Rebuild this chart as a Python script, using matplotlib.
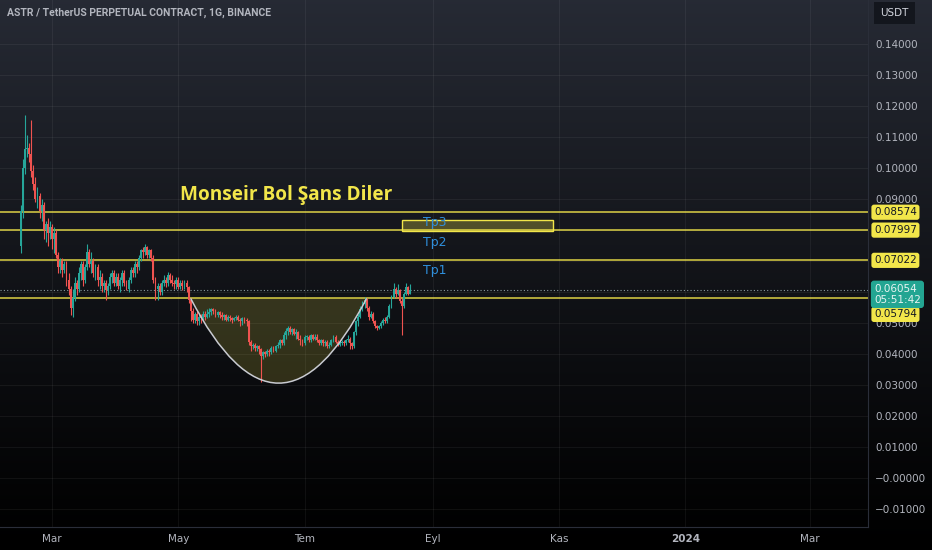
import matplotlib
matplotlib.use('Agg')
import matplotlib.pyplot as plt
import matplotlib.dates as mdates
import matplotlib.transforms as mtransforms
from matplotlib.path import Path
from matplotlib.patches import PathPatch, Rectangle
import numpy as np
import pandas as pd

# daily candles ASTR/USDT perp
first_date = '2023-02-14'
first_open = 0.075
closes = [
    0.086, 0.100, 0.106, 0.1065, 0.1045, 0.099, 0.095, 0.090, 0.091, 0.086,
    0.088, 0.080, 0.082, 0.079, 0.081, 0.077, 0.079, 0.072, 0.068, 0.070,
    0.067, 0.069, 0.064, 0.061, 0.055, 0.058, 0.063, 0.061, 0.066, 0.069,
    0.064, 0.068, 0.073, 0.069, 0.070, 0.066, 0.068, 0.064, 0.065, 0.062,
    0.063, 0.0605, 0.062, 0.065, 0.066, 0.063, 0.065, 0.062, 0.064, 0.066,
    0.063, 0.061, 0.064, 0.067, 0.066, 0.069, 0.068, 0.071, 0.0735, 0.073,
    0.0745, 0.072, 0.0735, 0.071, 0.064, 0.061, 0.062, 0.060, 0.063, 0.064,
    0.063, 0.0655, 0.064, 0.063, 0.0625, 0.064, 0.0615, 0.063, 0.062, 0.063,
    0.0615, 0.0575, 0.054, 0.051, 0.053, 0.0505, 0.052, 0.0515, 0.053, 0.052,
    0.053, 0.0535, 0.0545, 0.054, 0.0525, 0.0535, 0.0525, 0.052, 0.0525, 0.051,
    0.052, 0.0515, 0.051, 0.0515, 0.052, 0.051, 0.0505, 0.0515, 0.051, 0.0505,
    0.044, 0.0425, 0.043, 0.042, 0.0425, 0.0415, 0.0395, 0.0405, 0.040, 0.041,
    0.0405, 0.042, 0.041, 0.0425, 0.043, 0.0445, 0.0435, 0.046, 0.0475, 0.0485,
    0.047, 0.048, 0.0465, 0.047, 0.045, 0.0445, 0.0435, 0.0455, 0.0455, 0.0445,
    0.046, 0.045, 0.0455, 0.0445, 0.0435, 0.0445, 0.0435, 0.044, 0.0425, 0.043,
    0.0445, 0.0455, 0.044, 0.043, 0.0435, 0.044, 0.0435, 0.0445, 0.045, 0.0435,
    0.0425, 0.047, 0.0505, 0.052, 0.0545, 0.056, 0.0575, 0.055, 0.052, 0.053,
    0.0505, 0.049, 0.0485, 0.049, 0.050, 0.051, 0.0505, 0.052, 0.0555, 0.0585,
    0.061, 0.0595, 0.0605, 0.057, 0.0555, 0.0595, 0.0615, 0.0595, 0.06054,
]
highs = [
    0.088, 0.103, 0.117, 0.1105, 0.108, 0.1155, 0.101, 0.097, 0.094, 0.092,
    0.090, 0.089, 0.083, 0.084, 0.083, 0.082, 0.081, 0.080, 0.073, 0.071,
    0.071, 0.070, 0.070, 0.066, 0.062, 0.061, 0.065, 0.064, 0.068, 0.070,
    0.070, 0.069, 0.0755, 0.074, 0.073, 0.071, 0.069, 0.069, 0.067, 0.066,
    0.064, 0.064, 0.063, 0.066, 0.067, 0.067, 0.066, 0.066, 0.065, 0.067,
    0.067, 0.064, 0.065, 0.068, 0.068, 0.070, 0.070, 0.072, 0.074, 0.0745,
    0.0755, 0.075, 0.074, 0.074, 0.072, 0.065, 0.063, 0.063, 0.064, 0.0655,
    0.065, 0.0665, 0.066, 0.0655, 0.064, 0.065, 0.065, 0.064, 0.064, 0.064,
    0.064, 0.062, 0.058, 0.055, 0.0535, 0.054, 0.053, 0.053, 0.054, 0.054,
    0.0545, 0.0548, 0.055, 0.055, 0.0545, 0.054, 0.054, 0.0535, 0.053, 0.053,
    0.0525, 0.0525, 0.052, 0.052, 0.0525, 0.0525, 0.0515, 0.052, 0.052, 0.0515,
    0.051, 0.0445, 0.0435, 0.0435, 0.043, 0.043, 0.042, 0.041, 0.041, 0.0415,
    0.0415, 0.0425, 0.0425, 0.043, 0.044, 0.045, 0.045, 0.047, 0.0485, 0.049,
    0.049, 0.0485, 0.0485, 0.048, 0.0475, 0.046, 0.045, 0.046, 0.046, 0.046,
    0.0465, 0.0465, 0.0465, 0.0465, 0.045, 0.045, 0.045, 0.0445, 0.0445, 0.044,
    0.045, 0.046, 0.046, 0.0445, 0.0445, 0.0445, 0.0445, 0.045, 0.046, 0.0455,
    0.044, 0.0475, 0.051, 0.053, 0.0555, 0.057, 0.0583, 0.058, 0.0555, 0.054,
    0.0535, 0.051, 0.0495, 0.0495, 0.0505, 0.0515, 0.052, 0.0525, 0.056, 0.059,
    0.063, 0.0615, 0.0625, 0.061, 0.058, 0.060, 0.063, 0.062, 0.0625,
]
lows = [
    0.0726, 0.084, 0.098, 0.1035, 0.102, 0.097, 0.093, 0.089, 0.087, 0.084,
    0.083, 0.077, 0.076, 0.075, 0.077, 0.074, 0.0726, 0.071, 0.066, 0.066,
    0.065, 0.066, 0.062, 0.059, 0.0525, 0.052, 0.057, 0.059, 0.060, 0.064,
    0.062, 0.063, 0.067, 0.068, 0.066, 0.065, 0.064, 0.062, 0.061, 0.060,
    0.060, 0.0575, 0.059, 0.061, 0.063, 0.062, 0.062, 0.061, 0.060, 0.062,
    0.062, 0.0605, 0.060, 0.063, 0.065, 0.065, 0.066, 0.067, 0.070, 0.071,
    0.072, 0.071, 0.071, 0.070, 0.063, 0.0575, 0.0575, 0.059, 0.059, 0.062,
    0.0615, 0.062, 0.063, 0.062, 0.061, 0.061, 0.061, 0.061, 0.0605, 0.061,
    0.060, 0.0565, 0.0505, 0.050, 0.050, 0.0495, 0.0495, 0.050, 0.051, 0.051,
    0.0515, 0.052, 0.0525, 0.053, 0.052, 0.052, 0.0515, 0.051, 0.051, 0.0505,
    0.0505, 0.0505, 0.050, 0.0505, 0.051, 0.0505, 0.049, 0.0495, 0.050, 0.049,
    0.043, 0.041, 0.0415, 0.041, 0.041, 0.040, 0.031, 0.0385, 0.039, 0.0395,
    0.0395, 0.040, 0.0405, 0.0405, 0.042, 0.042, 0.043, 0.043, 0.045, 0.046,
    0.0465, 0.046, 0.046, 0.045, 0.0445, 0.043, 0.0425, 0.043, 0.0445, 0.044,
    0.044, 0.0445, 0.0445, 0.044, 0.043, 0.043, 0.0425, 0.0425, 0.042, 0.042,
    0.0425, 0.044, 0.0435, 0.0425, 0.0425, 0.043, 0.0425, 0.043, 0.044, 0.0415,
    0.0415, 0.042, 0.046, 0.049, 0.0515, 0.054, 0.055, 0.054, 0.051, 0.0515,
    0.050, 0.0485, 0.0478, 0.048, 0.0485, 0.0495, 0.050, 0.050, 0.0515, 0.055,
    0.058, 0.058, 0.059, 0.0565, 0.046, 0.055, 0.059, 0.059, 0.0595,
]

levels = [0.08574, 0.07997, 0.07022, 0.05794]
last_price = 0.06054
countdown = '05:51:42'

price_ticks = [0.14, 0.13, 0.12, 0.11, 0.10, 0.09, 0.08, 0.07, 0.06, 0.05,
               0.04, 0.03, 0.02, 0.01, 0.0, -0.01]
price_labels = ['0.14000', '0.13000', '0.12000', '0.11000', '0.10000', '0.09000',
                '', '', '', '0.05000', '0.04000', '0.03000', '0.02000', '0.01000',
                '\u22120.00000', '\u22120.01000']
month_ticks = ['2023-03-01', '2023-05-01', '2023-07-01', '2023-09-01',
               '2023-11-01', '2024-01-01', '2024-03-01']
month_labels = ['Mar', 'May', 'Tem', 'Eyl', 'Kas', '2024', 'Mar']

cup_start, cup_end = '2023-05-07', '2023-07-31'
cup_rim, cup_bottom = 0.05794, 0.0306

tp_box_dates = ['2023-08-17', '2023-10-29']
tp_box_prices = [0.0797, 0.0832]
tp_names = ['Tp3', 'Tp2', 'Tp1']
tp_prices = [0.0823, 0.0761, 0.0668]
tp_date = '2023-08-27'

headline = 'Monseir Bol Şans Diler'
headline_date = '2023-05-02'
headline_price = 0.0912
title = 'ASTR / TetherUS PERPETUAL CONTRACT, 1G, BINANCE'

up_col = '#26a69a'
down_col = '#ef5350'
yellow = '#f2e64a'
grey_txt = '#b2b5be'

dn = lambda s: mdates.date2num(pd.Timestamp(s))

W, H = 932, 550
fig = plt.figure(figsize=(W / 100, H / 100), dpi=100, facecolor='black')

# background gradient
bg = fig.add_axes([0, 0, 1, 1], zorder=-5)
grad = np.linspace(0, 1, 256)[:, None]
top = np.array([0.15, 0.165, 0.205])
cols = top[None, None, :] * (1 - grad[:, :, None]) ** 1.1
bg.imshow(cols, aspect='auto', extent=[0, 1, 0, 1], origin='upper')
bg.axis('off')

ax = fig.add_axes([0, 23 / H, 868 / W, 527 / H])
ax.set_facecolor('none')

dates = pd.date_range(first_date, periods=len(closes), freq='D')
x = mdates.date2num(dates)
c = np.array(closes)
o = np.concatenate([[first_open], c[:-1]])
hi = np.maximum(np.array(highs), np.maximum(o, c))
lo = np.minimum(np.array(lows), np.minimum(o, c))
colors = np.where(c >= o, up_col, down_col)

ax.vlines(x, lo, hi, colors=colors, lw=0.8, zorder=4)
body = np.where(np.abs(c - o) < 0.0004, 0.0004, np.abs(c - o))
ax.bar(x, body, bottom=np.minimum(o, c), width=0.9, color=colors, lw=0, zorder=5)

ax.set_xlim(dn('2023-03-01') - 25.1, dn('2023-03-01') + 394.2)
ax.set_ylim(-0.0158, 0.1542)

# cup (quadratic curve, filled against its chord)
xs, xe = dn(cup_start), dn(cup_end)
ctrl = 2 * cup_bottom - cup_rim
verts = [(xs, cup_rim), ((xs + xe) / 2, ctrl), (xe, cup_rim)]
fill_path = Path(verts + [(xs, cup_rim)],
                 [Path.MOVETO, Path.CURVE3, Path.CURVE3, Path.CLOSEPOLY])
ax.add_patch(PathPatch(fill_path, fc=yellow, alpha=0.17, ec='none', zorder=3))
arc_path = Path(verts, [Path.MOVETO, Path.CURVE3, Path.CURVE3])
ax.add_patch(PathPatch(arc_path, fc='none', ec='#c9cbd1', lw=1.1, zorder=6))

# horizontal levels
for lv in levels:
    ax.axhline(lv, color=yellow, lw=1.1, alpha=0.9, zorder=2)
ax.axhline(last_price, color='#8a9aa0', lw=0.8, ls=(0, (1, 2)), zorder=2)

# Tp3 box
bx0, bx1 = dn(tp_box_dates[0]), dn(tp_box_dates[1])
ax.add_patch(Rectangle((bx0, tp_box_prices[0]), bx1 - bx0,
                       tp_box_prices[1] - tp_box_prices[0],
                       fc=(0.95, 0.9, 0.29, 0.28), ec=yellow, lw=1.0, zorder=3))
for name, p in zip(tp_names, tp_prices):
    ax.text(dn(tp_date), p, name, color='#2f8fdc', fontsize=9,
            va='center', ha='left', zorder=7)

ax.text(dn(headline_date), headline_price, headline, color=yellow,
        fontsize=13.7, fontweight='bold', family='Open Sans', va='center',
        ha='left', zorder=7)

# axes styling
ax.set_yticks(price_ticks)
ax.set_yticklabels(price_labels)
ax.yaxis.tick_right()
ax.set_xticks([dn(d) for d in month_ticks])
ax.set_xticklabels(month_labels)
ax.tick_params(axis='both', length=0, colors=grey_txt, labelsize=7.5)
ax.tick_params(axis='y', pad=5)
ax.tick_params(axis='x', pad=5)
for lab in ax.get_xticklabels():
    if lab.get_text() == '2024':
        lab.set_fontweight('bold')
ax.grid(True, color='white', alpha=0.055, lw=0.8)
for s in ['top', 'left']:
    ax.spines[s].set_visible(False)
for s in ['right', 'bottom']:
    ax.spines[s].set_color('#2a2e39')
    ax.spines[s].set_linewidth(0.8)

# price labels on the axis
tr = mtransforms.blended_transform_factory(ax.transAxes, ax.transData)
shifts = {0.05794: -16}
for lv in levels:
    ax.annotate(f'{lv:.5f}', xy=(1, lv), xycoords=tr,
                xytext=(6, shifts.get(lv, 0)), textcoords='offset pixels',
                fontsize=7.5, color='#131722', va='center', ha='left',
                bbox=dict(boxstyle='round,pad=0.25', fc=yellow, ec='none'),
                annotation_clip=False, zorder=10)
ax.annotate(f'{last_price:.5f}\n{countdown}', xy=(1, last_price), xycoords=tr,
            xytext=(6, -4), textcoords='offset pixels', fontsize=7.5,
            color='#e8f4f2', va='center', ha='left', linespacing=1.15,
            bbox=dict(boxstyle='round,pad=0.3', fc='#23a592', ec='none'),
            annotation_clip=False, zorder=11)

fig.text(7 / W, 1 - 13 / H, title, color=grey_txt, fontsize=7.5,
         fontweight='bold', family='Roboto', va='center', ha='left')
fig.text(880 / W, 1 - 13 / H, 'USDT', color='#d1d4dc', fontsize=7.5,
         va='center', ha='left',
         bbox=dict(boxstyle='square,pad=0.6', fc='#13161d', ec='none'))

fig.savefig('out.png', dpi=100, facecolor='black')
